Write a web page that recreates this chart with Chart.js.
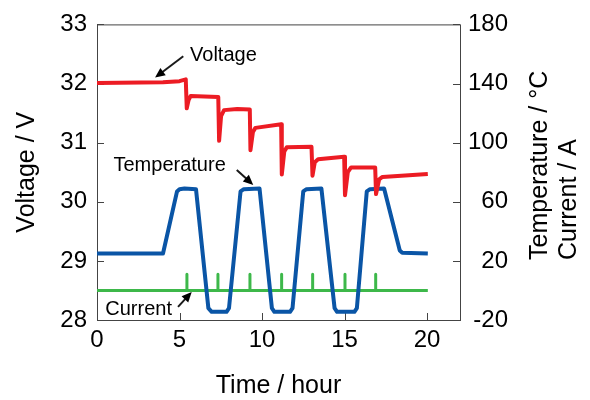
<!DOCTYPE html>
<html>
<head>
<meta charset="utf-8">
<script src="https://cdn.jsdelivr.net/npm/chart.js@4/dist/chart.umd.min.js"></script>
<style>
  body { margin: 0; background: #fff; }
  canvas { display: block; }
</style>
</head>
<body>
<canvas id="chart" width="590" height="400"></canvas>
<script>
// voltage (left axis)
var voltageTime   = [0, 4.0, 5.0, 5.38, 5.44, 5.55, 5.68, 7.35, 7.40, 7.52, 7.7, 8.5, 9.26, 9.30, 9.45, 9.6, 11.16, 11.20, 11.35, 11.5, 13.0, 13.06, 13.2, 13.4, 14.98, 15.03, 15.2, 15.4, 16.86, 16.91, 17.1, 17.3, 20.05];
var voltageValues = [32.01, 32.02, 32.04, 32.07, 31.58, 31.72, 31.79, 31.77, 31.03, 31.45, 31.55, 31.57, 31.56, 30.87, 31.18, 31.25, 31.31, 30.46, 30.85, 30.92, 30.93, 30.44, 30.67, 30.72, 30.76, 30.11, 30.50, 30.58, 30.58, 30.13, 30.38, 30.42, 30.47];

// temperature (right axis)
var tempTime   = [0, 4.0, 4.85, 5.0, 5.3, 6.0, 6.75, 6.95, 7.85, 8.0, 8.7, 8.9, 9.85, 10.6, 10.75, 11.7, 11.85, 12.5, 12.7, 13.6, 14.4, 14.55, 15.6, 15.75, 16.35, 16.55, 17.4, 18.35, 18.5, 20.05];
var tempValues = [25, 25, 67, 68.5, 69, 68.5, -12, -14.5, -14.5, -12, 67, 68.5, 69, -12, -14.5, -14.5, -12, 67, 68.5, 69, -12, -14.5, -14.5, -12, 67, 68.5, 69, 27, 25.5, 25];

// current (right axis)
var currentTime   = [0, 5.45, 5.45, 5.45, 7.33, 7.33, 7.33, 9.27, 9.27, 9.27, 11.19, 11.19, 11.19, 13.07, 13.07, 13.07, 15.03, 15.03, 15.03, 16.89, 16.89, 16.89, 20.05];
var currentValues = [0, 0, 11, 0, 0, 11, 0, 0, 11, 0, 0, 11, 0, 0, 11, 0, 0, 11, 0, 0, 11, 0, 0];

var xTicks = [0, 5, 10, 15, 20];
var voltTicks = [28, 29, 30, 31, 32, 33];
var tempTicks = [-20, 20, 60, 100, 140, 180];

function pts(xs, ys) {
  return xs.map(function (x, i) { return { x: x, y: ys[i] }; });
}

Chart.defaults.font.family = "'Liberation Sans', Arial, sans-serif";
Chart.defaults.font.size = 24;
Chart.defaults.color = '#000';

// labels with arrows, positioned in data units
var notes = [
  { text: 'Voltage', axis: 'y', tx: 5.64, ty: 32.47, from: [5.23, 32.46], to: [3.52, 32.10] },
  { text: 'Temperature', axis: 'y2', tx: 1.0, ty: 84.7, from: [8.47, 81.5], to: [9.47, 71.4] },
  { text: 'Current', axis: 'y2', tx: 0.5, ty: -13, from: [4.91, -11.1], to: [5.74, -1.1] }
];

function arrow(ctx, x1, y1, x2, y2) {
  var a = Math.atan2(y2 - y1, x2 - x1), h = 10, w = 4.5;
  ctx.beginPath();
  ctx.moveTo(x1, y1);
  ctx.lineTo(x2 - Math.cos(a) * h * 0.8, y2 - Math.sin(a) * h * 0.8);
  ctx.stroke();
  ctx.beginPath();
  ctx.moveTo(x2, y2);
  ctx.lineTo(x2 - h * Math.cos(a) + w * Math.sin(a), y2 - h * Math.sin(a) - w * Math.cos(a));
  ctx.lineTo(x2 - h * Math.cos(a) - w * Math.sin(a), y2 - h * Math.sin(a) + w * Math.cos(a));
  ctx.closePath();
  ctx.fill();
}

var decor = {
  id: 'decor',
  beforeDatasetsDraw: function (chart) {
    var ctx = chart.ctx, a = chart.chartArea, s = chart.scales, tl = 7;
    ctx.save();
    ctx.strokeStyle = '#444';
    ctx.lineWidth = 1;
    ctx.strokeRect(a.left + 0.5, a.top + 0.5, a.right - a.left, a.bottom - a.top);
    ctx.beginPath();
    s.x.ticks.forEach(function (t) {
      var px = Math.round(s.x.getPixelForValue(t.value)) + 0.5;
      ctx.moveTo(px, a.bottom); ctx.lineTo(px, a.bottom - tl);
    });
    s.y.ticks.forEach(function (t) {
      var py = Math.round(s.y.getPixelForValue(t.value)) + 0.5;
      ctx.moveTo(a.left, py); ctx.lineTo(a.left + tl, py);
    });
    s.y2.ticks.forEach(function (t) {
      var py = Math.round(s.y2.getPixelForValue(t.value)) + 0.5;
      ctx.moveTo(a.right, py); ctx.lineTo(a.right - tl, py);
    });
    ctx.stroke();
    ctx.restore();
  },
  afterDraw: function (chart) {
    var ctx = chart.ctx, a = chart.chartArea, s = chart.scales;
    ctx.save();
    ctx.fillStyle = '#000';
    ctx.strokeStyle = '#1a1a1a';
    ctx.lineWidth = 2;
    // axis titles
    ctx.font = "25px 'Liberation Sans', Arial, sans-serif";
    ctx.textAlign = 'center';
    ctx.textBaseline = 'middle';
    ctx.fillText('Time / hour', (a.left + a.right) / 2, 386);
    ctx.save();
    ctx.translate(27, (a.top + a.bottom) / 2);
    ctx.rotate(-Math.PI / 2);
    ctx.fillText('Voltage / V', 0, 0);
    ctx.restore();
    ctx.save();
    ctx.translate(540, 260);
    ctx.rotate(-Math.PI / 2);
    ctx.textAlign = 'left';
    ctx.fillText('Temperature / \u00b0C', 0, 0);
    ctx.fillText('Current / A', 0, 29);
    ctx.restore();
    // annotations
    ctx.font = "20px 'Liberation Sans', Arial, sans-serif";
    ctx.textAlign = 'left';
    notes.forEach(function (n) {
      var ys = s[n.axis];
      ctx.fillText(n.text, s.x.getPixelForValue(n.tx), ys.getPixelForValue(n.ty));
      arrow(ctx, s.x.getPixelForValue(n.from[0]), ys.getPixelForValue(n.from[1]),
                 s.x.getPixelForValue(n.to[0]), ys.getPixelForValue(n.to[1]));
    });
    ctx.restore();
  }
};

function setTicks(list) {
  return function (scale) { scale.ticks = list.map(function (v) { return { value: v }; }); };
}

new Chart(document.getElementById('chart'), {
  type: 'line',
  data: {
    datasets: [
      { label: 'Voltage', data: pts(voltageTime, voltageValues), yAxisID: 'y', borderColor: '#ec1c24', borderWidth: 4 },
      { label: 'Temperature', data: pts(tempTime, tempValues), yAxisID: 'y2', borderColor: '#0a55a6', borderWidth: 4 },
      { label: 'Current', data: pts(currentTime, currentValues), yAxisID: 'y2', borderColor: '#3db84a', borderWidth: 3 }
    ]
  },
  options: {
    responsive: false,
    animation: false,
    layout: { padding: { top: 21, right: 82, bottom: 0, left: 0 } },
    elements: { point: { radius: 0 }, line: { tension: 0, borderJoinStyle: 'round' } },
    plugins: { legend: { display: false }, tooltip: { enabled: false } },
    scales: {
      x: {
        type: 'linear', min: 0, max: 22,
        afterBuildTicks: setTicks(xTicks),
        afterFit: function (s) { s.height = 80; },
        grid: { display: false, drawTicks: false },
        border: { display: false },
        ticks: { padding: 6, maxRotation: 0 }
      },
      y: {
        position: 'left', min: 28, max: 33,
        afterBuildTicks: setTicks(voltTicks),
        afterFit: function (s) { s.width = 97; },
        grid: { display: false, drawTicks: false },
        border: { display: false },
        ticks: { padding: 10 }
      },
      y2: {
        position: 'right', min: -20, max: 180,
        afterBuildTicks: setTicks(tempTicks),
        afterFit: function (s) { s.width = 48; },
        grid: { display: false, drawTicks: false },
        border: { display: false },
        ticks: { padding: 8, crossAlign: 'far' }
      }
    }
  },
  plugins: [decor]
});
</script>
</body>
</html>
